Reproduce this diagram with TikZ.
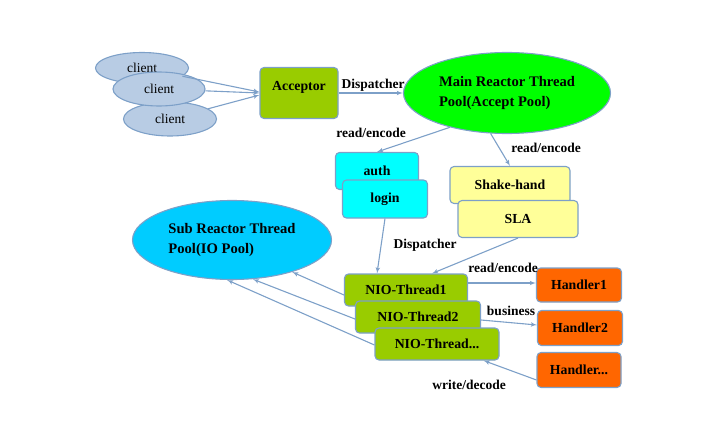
\documentclass[tikz,border=0pt]{standalone}
\usepackage{fontspec}
\setmainfont{Liberation Serif}
\usepackage{tikz}
\usetikzlibrary{arrows,shapes.geometric}

\definecolor{rim}{RGB}{125,160,200}
\definecolor{clientblue}{RGB}{184,204,228}
\definecolor{accgreen}{RGB}{153,204,0}
\definecolor{maingreen}{RGB}{0,255,0}
\definecolor{authcyan}{RGB}{0,255,255}
\definecolor{subblue}{RGB}{0,204,255}
\definecolor{shakeyellow}{RGB}{255,255,153}
\definecolor{handorange}{RGB}{255,102,0}

\begin{document}
\begin{tikzpicture}[x=1pt,y=-1pt]
\tikzset{box/.style = {shape=rectangle,rounded corners=4pt,draw=rim,line width=1.1pt,font=\bfseries\fontsize{13.8}{16}\selectfont}}
\tikzset{oval/.style = {shape=ellipse,draw=rim,line width=1.1pt,inner sep=0pt,align=left,font=\bfseries\fontsize{14.6}{20.5}\selectfont}}
\tikzset{cloud/.style = {shape=ellipse,draw=rim,line width=1.1pt,fill=clientblue,inner sep=0pt,font=\fontsize{13.5}{15}\selectfont}}
\tikzset{tag/.style = {font=\bfseries\fontsize{13.5}{15}\selectfont,inner sep=1pt}}
\tikzset{edge/.style = {->,> = latex',draw=rim,line width=1.1pt}}
\useasboundingbox (0,0) rectangle (709,428);
% clients
\node[cloud,minimum width=93,minimum height=31] (c1) at (142,68) {client};
\node[cloud,minimum width=93,minimum height=34] (c3) at (170,119) {client};
\node[cloud,minimum width=92,minimum height=34] (c2) at (159,89) {client};
% acceptor and main reactor
\node[box,fill=accgreen,minimum width=78,minimum height=51,text depth=14pt] (acc) at (299,93) {Acceptor};
\node[oval,fill=maingreen,minimum width=207,minimum height=81] (main) at (507,93) {Main Reactor Thread\\Pool(Accept Pool)};
\node[box,fill=authcyan,minimum width=83,minimum height=37] (auth) at (377,171) {auth};
\node[box,fill=authcyan,minimum width=85,minimum height=38] (login) at (385,199) {login};
\node[box,fill=shakeyellow,minimum width=120,minimum height=37] (shake) at (510,185) {Shake-hand};
\node[box,fill=shakeyellow,minimum width=120,minimum height=37] (sla) at (518,219) {SLA};
% sub reactor
\node[oval,fill=subblue,minimum width=199,minimum height=79] (sub) at (232,240) {Sub Reactor Thread\\Pool(IO Pool)};
\node[box,fill=accgreen,minimum width=123,minimum height=32] (nio1) at (406,290) {NIO-Thread1};
\node[box,fill=accgreen,minimum width=125,minimum height=32] (nio2) at (418,317) {NIO-Thread2};
\node[box,fill=accgreen,minimum width=124,minimum height=32] (nio3) at (437,344) {NIO-Thread...};
% handlers
\node[box,fill=handorange,minimum width=85,minimum height=34] (h1) at (579,285) {Handler1};
\node[box,fill=handorange,minimum width=85,minimum height=35] (h2) at (580,328) {Handler2};
\node[box,fill=handorange,minimum width=84,minimum height=35] (h3) at (579,370) {Handler...};

%edges
\draw[edge] (c1) to[] ([yshift=1]acc.west);
\draw[edge] (c2) to[] (acc.west);
\draw[edge] (c3) to[] ([yshift=-2]acc.west);
\draw[edge] (acc.east) to[] (main.west);
\draw[edge] (main.-149) to[] (auth.north);
\draw[edge] (main.-112) to[] (shake.north);
\draw[edge] (login.south) to[] ([xshift=-29]nio1.north);
\draw[edge] (sla.south) to[] ([xshift=26]nio1.north);
\draw[edge] ([yshift=7]nio1.east) to[] ([yshift=2]h1.west);
\draw[edge] ([yshift=-3]nio2.east) to[] ([yshift=3]h2.west);
\draw[edge] ([yshift=-10]h3.west) to[] ([xshift=-16]nio3.south east);
\draw[edge] ([yshift=-5]nio1.west) to[] (sub.-28);
\draw[edge] ([yshift=-2]nio2.west) to[] (sub.-62);
\draw[edge] ([yshift=-1]nio3.west) to[] (sub.-97);
% labels
\node[tag] (l0) at (373,85) {Dispatcher};
\node[tag] (l1) at (371,133) {read/encode};
\node[tag] (l2) at (546,148) {read/encode};
\node[tag] (l3) at (425,245) {Dispatcher};
\node[tag] (l4) at (503,268) {read/encode};
\node[tag] (l5) at (511,311) {business};
\node[tag] (l6) at (469,385) {write/decode};
\end{tikzpicture}
\end{document}
